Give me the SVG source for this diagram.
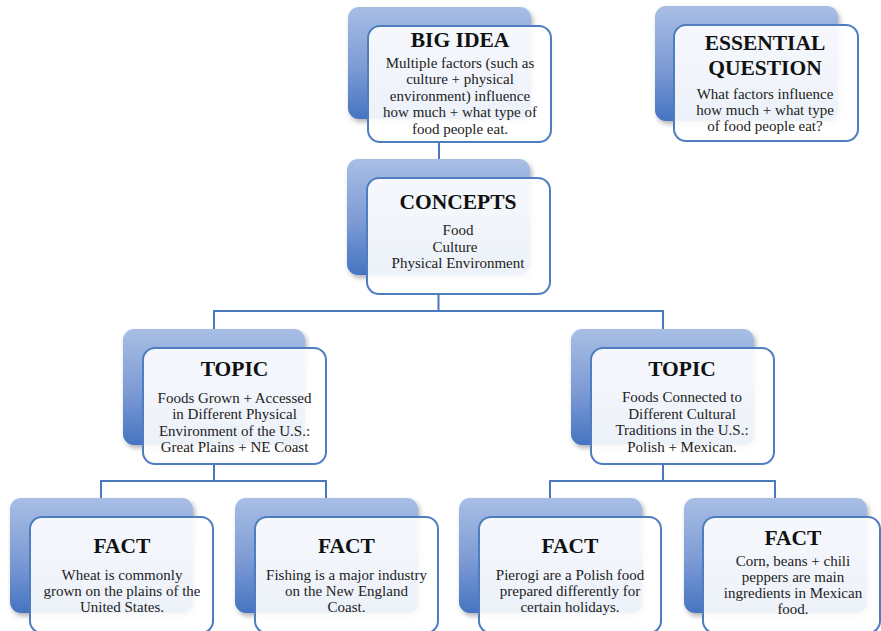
<svg xmlns="http://www.w3.org/2000/svg" width="881" height="631" viewBox="0 0 881 631">
  <defs>
    <linearGradient id="backFill" x1="0" y1="0" x2="0" y2="1">
      <stop offset="0" stop-color="#a8bee5"/>
      <stop offset="0.55" stop-color="#7c9ad4"/>
      <stop offset="1" stop-color="#4574c2"/>
    </linearGradient>
    <filter id="softShadow" x="-10%" y="-10%" width="125%" height="130%">
      <feDropShadow dx="2" dy="3" stdDeviation="2.5" flood-color="#000" flood-opacity="0.3"/>
    </filter>
  </defs>
  <style>
    .back { fill: url(#backFill); filter: url(#softShadow); }
    .front { fill: #ffffff; fill-opacity: 0.9; stroke: #4f7dc0; stroke-width: 2; }
    .link { fill: none; stroke: #4b79bd; stroke-width: 2; }
    .title { font-family: "Liberation Serif", "Times New Roman", serif; font-weight: bold; font-size: 21.5px; fill: #111; text-anchor: middle; }
    .body { font-family: "Liberation Serif", "Times New Roman", serif; font-size: 15px; fill: #222; text-anchor: middle; }
  </style>
  <rect width="881" height="631" fill="#ffffff"/>

  <!-- connectors -->
  <g id="connectors">
    <path class="link" d="M439 142 V159"/>
    <path class="link" d="M438.5 294 V311 M214 329 V311 H663 V329"/>
    <path class="link" d="M214 464 V481 M101 498 V481 H326 V498"/>
    <path class="link" d="M663 464 V481 M550 498 V481 H775 V498"/>
  </g>

  <!-- big idea -->
  <g id="big-idea">
    <rect class="back" x="348" y="7" width="183" height="112" rx="11"/>
    <rect class="front" x="368" y="26" width="183" height="116" rx="12"/>
    <text class="title" x="460" y="47">BIG IDEA</text>
    <text class="body" x="460" y="67.5">Multiple factors (such as</text>
    <text class="body" x="460" y="84">culture + physical</text>
    <text class="body" x="460" y="100.5">environment) influence</text>
    <text class="body" x="460" y="117">how much + what type of</text>
    <text class="body" x="460" y="133.5">food people eat.</text>
  </g>

  <!-- essential question -->
  <g id="essential-question">
    <rect class="back" x="655" y="6" width="183" height="115" rx="11"/>
    <rect class="front" x="674" y="25" width="184" height="116" rx="12"/>
    <text class="title" x="765" y="50">ESSENTIAL</text>
    <text class="title" x="765" y="75">QUESTION</text>
    <text class="body" x="765" y="99">What factors influence</text>
    <text class="body" x="765" y="115">how much + what type</text>
    <text class="body" x="765" y="131">of food people eat?</text>
  </g>

  <!-- concepts -->
  <g id="concepts">
    <rect class="back" x="347" y="159" width="183" height="116" rx="11"/>
    <rect class="front" x="367" y="178" width="183" height="116" rx="12"/>
    <text class="title" x="458" y="209">CONCEPTS</text>
    <text class="body" x="458" y="235">Food</text>
    <text class="body" x="455" y="251.5">Culture</text>
    <text class="body" x="458" y="268">Physical Environment</text>
  </g>

  <!-- topic: physical environment -->
  <g id="topic-environment">
    <rect class="back" x="123" y="329" width="182" height="116" rx="11"/>
    <rect class="front" x="143" y="348" width="183" height="116" rx="12"/>
    <text class="title" x="234.5" y="376">TOPIC</text>
    <text class="body" x="234.5" y="402.5">Foods Grown + Accessed</text>
    <text class="body" x="234.5" y="419">in Different Physical</text>
    <text class="body" x="234.5" y="435.5">Environment of the U.S.:</text>
    <text class="body" x="234.5" y="452">Great Plains + NE Coast</text>
  </g>

  <!-- topic: cultural traditions -->
  <g id="topic-culture">
    <rect class="back" x="571" y="329" width="183" height="116" rx="11"/>
    <rect class="front" x="591" y="348" width="183" height="116" rx="12"/>
    <text class="title" x="682" y="376">TOPIC</text>
    <text class="body" x="682" y="402">Foods Connected to</text>
    <text class="body" x="682" y="418.5">Different Cultural</text>
    <text class="body" x="682" y="435">Traditions in the U.S.:</text>
    <text class="body" x="682" y="451.5">Polish + Mexican.</text>
  </g>

  <!-- fact: wheat -->
  <g id="fact-wheat">
    <rect class="back" x="10" y="498" width="183" height="115" rx="11"/>
    <rect class="front" x="30" y="517" width="183" height="116" rx="12"/>
    <text class="title" x="122" y="553">FACT</text>
    <text class="body" x="122" y="580">Wheat is commonly</text>
    <text class="body" x="122" y="596">grown on the plains of the</text>
    <text class="body" x="122" y="612">United States.</text>
  </g>

  <!-- fact: fishing -->
  <g id="fact-fishing">
    <rect class="back" x="235" y="498" width="183" height="115" rx="11"/>
    <rect class="front" x="255" y="517" width="183" height="116" rx="12"/>
    <text class="title" x="346.5" y="553">FACT</text>
    <text class="body" x="346.5" y="580">Fishing is a major industry</text>
    <text class="body" x="346.5" y="596">on the New England</text>
    <text class="body" x="346.5" y="612">Coast.</text>
  </g>

  <!-- fact: pierogi -->
  <g id="fact-pierogi">
    <rect class="back" x="459" y="498" width="183" height="115" rx="11"/>
    <rect class="front" x="479" y="517" width="182" height="116" rx="12"/>
    <text class="title" x="570" y="553">FACT</text>
    <text class="body" x="570" y="580">Pierogi are a Polish food</text>
    <text class="body" x="570" y="596">prepared differently for</text>
    <text class="body" x="570" y="612">certain holidays.</text>
  </g>

  <!-- fact: mexican food -->
  <g id="fact-mexican">
    <rect class="back" x="684" y="498" width="183" height="115" rx="11"/>
    <rect class="front" x="703" y="517" width="177" height="116" rx="12"/>
    <text class="title" x="793" y="545">FACT</text>
    <text class="body" x="793" y="566">Corn, beans + chili</text>
    <text class="body" x="793" y="582">peppers are main</text>
    <text class="body" x="793" y="598">ingredients in Mexican</text>
    <text class="body" x="793" y="614">food.</text>
  </g>
</svg>
